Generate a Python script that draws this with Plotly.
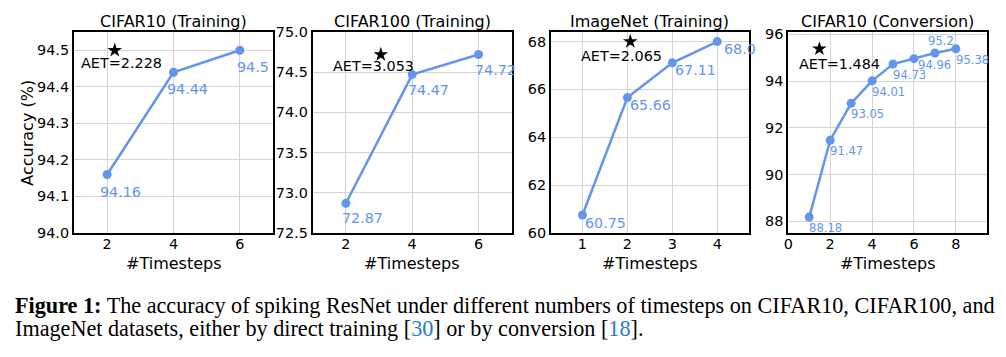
import plotly.graph_objects as go

# page body has an 8px margin; figure coordinates are expressed in window pixels below
OFF = 8
W, H = 990, 341

# ---------------- data ----------------
titles = ["CIFAR10 (Training)", "CIFAR100 (Training)", "ImageNet (Training)", "CIFAR10 (Conversion)"]

c10_steps = [2, 4, 6]
c10_acc = [94.16, 94.44, 94.5]

c100_steps = [2, 4, 6]
c100_acc = [72.87, 74.47, 74.72]

imnet_steps = [1, 2, 3, 4]
imnet_acc = [60.75, 65.66, 67.11, 68.0]

conv_steps = [1, 2, 3, 4, 5, 6, 7, 8]
conv_acc = [88.18, 91.47, 93.05, 94.01, 94.73, 94.96, 95.2, 95.38]

aet_values = [2.228, 3.053, 2.065, 1.484]

x_label = "#Timesteps"
y_label = "Accuracy (%)"
caption_line1 = ("<b>Figure 1:</b> The accuracy of spiking ResNet under different numbers of "
                 "timesteps on CIFAR10, CIFAR100, and")
caption_line2 = ("ImageNet datasets, either by direct training [<span style='color:#2a7bc4'>30</span>] "
                 "or by conversion [<span style='color:#2a7bc4'>18</span>].")

# ---------------- styling / layout ----------------
BLUE = "#6495ED"
series = [(c10_steps, c10_acc), (c100_steps, c100_acc), (imnet_steps, imnet_acc), (conv_steps, conv_acc)]

panel_px = [(74, 273), (312.7, 511.7), (551, 748.7), (788.3, 987.3)]
top_px, bot_px = 32, 233
x_ranges = [[1, 7], [1, 7], [0.3, 4.7], [0, 9.5]]
y_ranges = [[94.0, 94.55], [72.5, 75.0], [60, 68.4], [87.5, 96.1]]
x_ticks = [[2, 4, 6], [2, 4, 6], [1, 2, 3, 4], [0, 2, 4, 6, 8]]
y_ticks = [[94.0, 94.1, 94.2, 94.3, 94.4, 94.5], [72.5, 73.0, 73.5, 74.0, 74.5, 75.0],
           [60, 62, 64, 66, 68], [88, 90, 92, 94, 96]]
y_fmt = [".1f", ".1f", "d", "d"]
# label offsets (pixels, right / down) of value labels relative to their points
label_off = [
    [(13.5, 17)] * 3,
    [(16.5, 15)] * 3,
    [(23, 7.5)] * 4,
    [(16.5, 11.2), (16.3, 11.2), (16.3, 11.2), (16.5, 11), (16.7, 10.5), (21, 6.2), (6.2, -12), (17, 11.2)],
]
label_size = [14.3, 14.3, 14.3, 11.6]
aet_off = [(6.8, 13), (-7.2, 11), (-8.7, 14), (20.4, 15.5)]

def px(x):
    return (x - OFF) / W

def py(y):
    return 1 - (y - OFF) / H

fig = go.Figure()
annotations = []

for i, ((xs, ys), (l, r)) in enumerate(zip(series, panel_px)):
    sfx = "" if i == 0 else str(i + 1)
    xa, ya = "x" + sfx, "y" + sfx
    fig.add_trace(go.Scatter(
        x=xs, y=ys, mode="lines+markers", xaxis=xa, yaxis=ya,
        line=dict(color=BLUE, width=2.5), marker=dict(color=BLUE, size=9),
        showlegend=False, cliponaxis=False))
    best = max(ys)
    fig.add_trace(go.Scatter(
        x=[aet_values[i]], y=[best], mode="markers", xaxis=xa, yaxis=ya,
        marker=dict(symbol="star", color="black", size=11, line=dict(width=0)),
        showlegend=False, cliponaxis=False))
    axis_common = dict(showline=True, linecolor="black", linewidth=2, mirror=True,
                       showgrid=True, gridcolor="#d4d4d4", gridwidth=1, ticks="", ticklen=0,
                       zeroline=False, automargin=False,
                       tickfont=dict(family="DejaVu Sans", size=14.4, color="black"))
    fig.layout["xaxis" + sfx] = dict(domain=[px(l), px(r)], range=x_ranges[i], tickvals=x_ticks[i],
                                     anchor=ya, ticklabelstandoff=-3, **axis_common)
    fig.layout["yaxis" + sfx] = dict(domain=[py(bot_px), py(top_px)], range=y_ranges[i],
                                     tickvals=y_ticks[i], tickformat=y_fmt[i], anchor=xa,
                                     ticklabelstandoff=0, **axis_common)
    # value labels
    for j, (xv, yv) in enumerate(zip(xs, ys)):
        dx, dy = label_off[i][j]
        annotations.append(dict(x=xv, y=yv, xref=xa, yref=ya, text=str(yv), showarrow=False,
                                xshift=dx, yshift=-dy, xanchor="center", yanchor="middle",
                                font=dict(family="DejaVu Sans", size=label_size[i], color=BLUE)))
    # AET text
    dx, dy = aet_off[i]
    annotations.append(dict(x=aet_values[i], y=best, xref=xa, yref=ya, text=f"AET={aet_values[i]}",
                            showarrow=False, xshift=dx, yshift=-dy, xanchor="center", yanchor="middle",
                            font=dict(family="DejaVu Sans", size=14.4, color="black")))
    # title
    annotations.append(dict(x=px((l + r) / 2), y=py(22), xref="paper", yref="paper", text=titles[i],
                            showarrow=False, xanchor="center", yanchor="middle",
                            font=dict(family="DejaVu Sans", size=16, color="black")))
    # x label
    annotations.append(dict(x=px((l + r) / 2), y=py(263), xref="paper", yref="paper", text=x_label,
                            showarrow=False, xanchor="center", yanchor="middle",
                            font=dict(family="DejaVu Sans", size=16, color="black")))

annotations.append(dict(x=px(26.7), y=py(133), xref="paper", yref="paper", text=y_label,
                        showarrow=False, textangle=-90, xanchor="center", yanchor="middle",
                        font=dict(family="DejaVu Sans", size=16, color="black")))

annotations.append(dict(x=px(13), y=py(305), xref="paper", yref="paper", text=caption_line1,
                        showarrow=False, xanchor="left", yanchor="middle",
                        font=dict(family="Liberation Serif", size=22.2, color="black")))
annotations.append(dict(x=px(13), y=py(328), xref="paper", yref="paper", text=caption_line2,
                        showarrow=False, xanchor="left", yanchor="middle",
                        font=dict(family="Liberation Serif", size=22.2, color="black")))

fig.update_layout(width=W, height=H, margin=dict(l=0, r=0, t=0, b=0),
                  paper_bgcolor="white", plot_bgcolor="white", annotations=annotations)

fig.write_html("out.html")
